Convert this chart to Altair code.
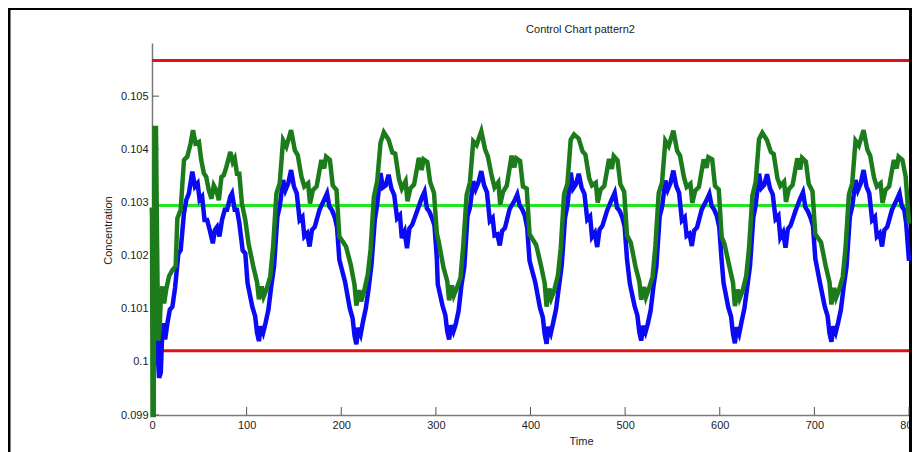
import altair as alt
import pandas as pd

# ---------------- text / ticks ----------------
title_text = "Control Chart pattern2"
x_title = "Time"
y_title = "Concentration"
x_ticks = [0, 100, 200, 300, 400, 500, 600, 700, 800]
y_ticks = [0.099, 0.1, 0.101, 0.102, 0.103, 0.104, 0.105]

# ---------------- control limits ----------------
limit_names = ["UCL", "CL", "LCL"]
limit_values = [0.10567, 0.10294, 0.10021]
limit_colors = ["#e01212", "#22e622", "#e01212"]
limit_start = [0, 0, 0]
limit_end = [800, 800, 800]

# ---------------- series 1 (dark green) ----------------
green_t = [
    0, 0.6, 1.8, 2.6, 4.2, 5.2, 6.5, 8, 9.5, 11, 12.8, 15, 18, 21.6, 25, 26.8, 30.3, 33.8, 37.3, 40.8,
    43.3, 46, 49.6, 52, 54.8, 57.3, 60, 62.9, 65.3, 68, 70.6, 73.4, 75.8, 78.6, 82.8, 85.3, 87.4, 89.8, 92.3, 95, 98.6,
    102, 107, 111, 113, 116, 118, 121, 125, 128, 131.5, 135, 138.5, 142, 147, 151, 154, 158, 161, 165, 167,
    170, 174, 179, 182, 184, 188, 191, 195, 198,
    205, 210, 214, 216, 219, 221, 224, 228, 231, 234.5, 238, 241.5, 245, 250, 254, 257, 261, 264, 268, 270,
    273, 277, 282, 285, 287, 291, 294, 298, 301,
    303, 308, 312, 314, 317, 319, 322, 326, 329, 332.5, 336, 339.5, 343, 348, 352, 355, 359, 362, 366, 368,
    371, 375, 380, 383, 385, 389, 392, 396, 399,
    406, 411, 415, 417, 420, 422, 425, 429, 432, 435.5, 439, 442.5, 446, 451, 455, 458, 462, 465, 469, 471,
    474, 478, 483, 486, 488, 492, 495, 499, 502,
    506, 511, 515, 517, 520, 522, 525, 529, 532, 535.5, 539, 542.5, 546, 551, 555, 558, 562, 565, 569, 571,
    574, 578, 583, 586, 588, 592, 595, 599, 602,
    605, 610, 614, 616, 619, 621, 624, 628, 631, 634.5, 638, 641.5, 645, 650, 654, 657, 661, 664, 668, 670,
    673, 677, 682, 685, 687, 691, 694, 698, 701,
    707, 712, 716, 718, 721, 723, 726, 730, 733, 736.5, 740, 743.5, 747, 752, 756, 759, 763, 766, 770, 772,
    775, 779, 784, 787, 789, 793, 796.5, 800,
]
green_v = [
    0.1029, 0.0990, 0.0990, 0.1044, 0.1044, 0.1025, 0.1004, 0.1006, 0.1013, 0.10142, 0.1011, 0.10136, 0.10161, 0.10173, 0.1018, 0.1027, 0.10286, 0.1038, 0.10386, 0.10411,
    0.10436, 0.10411, 0.10414, 0.1038, 0.10355, 0.10348, 0.10323, 0.10307, 0.10332, 0.10323, 0.10304, 0.10348, 0.10351, 0.10367, 0.10395, 0.10376, 0.10383, 0.10354, 0.10354, 0.10298, 0.10267,
    0.10223, 0.1018, 0.1015, 0.10118, 0.10142, 0.10123, 0.10136, 0.10161, 0.10217, 0.10317, 0.10336, 0.10417, 0.10405, 0.10436, 0.10398, 0.10389, 0.10348, 0.1033, 0.10336, 0.10298,
    0.10323, 0.1033, 0.1038, 0.10364, 0.10386, 0.1038, 0.10332, 0.10323, 0.10236,
    0.10217, 0.10183, 0.10145, 0.10106, 0.10135, 0.10114, 0.10132, 0.10164, 0.10211, 0.10311, 0.1034, 0.10412, 0.10432, 0.10418, 0.10394, 0.10392, 0.10344, 0.10326, 0.1034, 0.10302,
    0.10326, 0.10334, 0.10384, 0.10361, 0.10381, 0.10376, 0.10338, 0.10318, 0.10242,
    0.10226, 0.10178, 0.10152, 0.10116, 0.10144, 0.10125, 0.10138, 0.10158, 0.1022, 0.10314, 0.10338, 0.10415, 0.10408, 0.10434, 0.104, 0.10386, 0.1035, 0.10328, 0.10338, 0.10296,
    0.1032, 0.10332, 0.10388, 0.10366, 0.10383, 0.10378, 0.1033, 0.10326, 0.1024,
    0.1022, 0.10182, 0.10148, 0.10104, 0.10138, 0.1012, 0.10134, 0.10163, 0.10214, 0.10316, 0.10335, 0.10418, 0.10428, 0.1042, 0.10396, 0.1039, 0.10346, 0.10332, 0.10337, 0.103,
    0.10324, 0.10331, 0.10382, 0.10363, 0.10387, 0.10379, 0.10334, 0.1032, 0.10238,
    0.10224, 0.10179, 0.10151, 0.10117, 0.10141, 0.10122, 0.10137, 0.1016, 0.10218, 0.10318, 0.10337, 0.10416, 0.10406, 0.10435, 0.10397, 0.10388, 0.10349, 0.10329, 0.10335, 0.10299,
    0.10322, 0.10329, 0.10381, 0.10365, 0.10385, 0.10381, 0.10331, 0.10324, 0.10235,
    0.10222, 0.10181, 0.10149, 0.10105, 0.10136, 0.10119, 0.10133, 0.10162, 0.10215, 0.10313, 0.10339, 0.10419, 0.10431, 0.10417, 0.10395, 0.10391, 0.10345, 0.10331, 0.10339, 0.10301,
    0.10325, 0.10333, 0.10383, 0.10362, 0.10384, 0.10377, 0.10335, 0.10321, 0.1024,
    0.10225, 0.1018, 0.1015, 0.10108, 0.10139, 0.10121, 0.10135, 0.1016, 0.10216, 0.10315, 0.10336, 0.10416, 0.10407, 0.10436, 0.10399, 0.10388, 0.10347, 0.1033, 0.10336, 0.10299,
    0.10323, 0.1033, 0.1038, 0.10364, 0.10386, 0.1038, 0.10348, 0.1026,
]

# ---------------- series 2 (blue) ----------------
blue_t = [
    0, 1.5, 3.5, 5, 6.5, 7.5, 9.3, 10.5, 11.8, 13.9, 16.3, 18.8, 21.6, 24.4, 27.9, 30.3, 33.8, 36.3, 39, 42.6,
    45.4, 48.2, 50.3, 53, 55.5, 58.3, 61, 64.3, 66.4, 68.8, 71.3, 74, 76.9, 79.3, 82.8, 84.6, 87.4, 89.8, 92.3, 95.8, 98.6,
    101, 106, 109, 111, 113, 115, 117.5, 120, 123, 126, 129, 132.5, 135, 138.5, 141, 144, 147, 150, 153, 156,
    159, 161, 164, 166.5, 169, 172, 177, 182, 185, 187.5, 190, 193, 195.5, 198,
    204, 209, 212, 214, 216, 218, 220.5, 223, 226, 229, 232, 235.5, 238, 241.5, 244, 247, 250, 253, 256, 259,
    262, 264, 267, 269.5, 272, 275, 280, 285, 288, 290.5, 293, 296, 298.5, 301,
    302, 307, 310, 312, 314, 316, 318.5, 321, 324, 327, 330, 333.5, 336, 339.5, 342, 345, 348, 351, 354, 357,
    360, 362, 365, 367.5, 370, 373, 378, 383, 386, 388.5, 391, 394, 396.5, 399,
    405, 410, 413, 415, 417, 419, 421.5, 424, 427, 430, 433, 436.5, 439, 442.5, 445, 448, 451, 454, 457, 460,
    463, 465, 468, 470.5, 473, 476, 481, 486, 489, 491.5, 494, 497, 499.5, 502,
    505, 510, 513, 515, 517, 519, 521.5, 524, 527, 530, 533, 536.5, 539, 542.5, 545, 548, 551, 554, 557, 560,
    563, 565, 568, 570.5, 573, 576, 581, 586, 589, 591.5, 594, 597, 599.5, 602,
    604, 609, 612, 614, 616, 618, 620.5, 623, 626, 629, 632, 635.5, 638, 641.5, 644, 647, 650, 653, 656, 659,
    662, 664, 667, 669.5, 672, 675, 680, 685, 688, 690.5, 693, 696, 698.5, 701,
    706, 711, 714, 716, 718, 720, 722.5, 725, 728, 731, 734, 737.5, 740, 743.5, 746, 749, 752, 755, 758, 761,
    764, 766, 769, 771.5, 774, 777, 782, 787, 790, 792.5, 795, 797, 800,
]
blue_v = [
    0.1029, 0.1020, 0.1014, 0.1010, 0.1000, 0.0997, 0.0998, 0.1004, 0.10073, 0.10042, 0.10073, 0.10098, 0.10104, 0.1014, 0.10204, 0.1021, 0.1028, 0.10305, 0.10317, 0.10358,
    0.1033, 0.10336, 0.10305, 0.10311, 0.10267, 0.10267, 0.10248, 0.10223, 0.10248, 0.10254, 0.10236, 0.10267, 0.10286, 0.10286, 0.10311, 0.10317, 0.10286, 0.10286, 0.10261, 0.1021, 0.10204,
    0.10148, 0.10104, 0.10086, 0.10055, 0.10039, 0.10067, 0.10055, 0.10073, 0.10098, 0.10142, 0.1018, 0.10273, 0.10292, 0.10342, 0.10323, 0.10336, 0.10361, 0.1033, 0.10317, 0.10267,
    0.10273, 0.10236, 0.10242, 0.10217, 0.10248, 0.10254, 0.10286, 0.10305, 0.10317, 0.10292, 0.10286, 0.10273, 0.10254, 0.10192,
    0.10151, 0.10101, 0.10082, 0.1005, 0.10033, 0.10064, 0.10052, 0.10076, 0.10101, 0.10139, 0.10184, 0.10268, 0.10296, 0.10355, 0.10328, 0.10332, 0.10352, 0.10326, 0.10314, 0.1027,
    0.10276, 0.10233, 0.10245, 0.10214, 0.10251, 0.10258, 0.10283, 0.10308, 0.1032, 0.10289, 0.10283, 0.1027, 0.10257, 0.10195,
    0.10146, 0.10106, 0.10088, 0.10058, 0.10042, 0.10069, 0.10057, 0.10071, 0.10096, 0.10144, 0.10178, 0.10275, 0.1029, 0.1034, 0.10325, 0.10338, 0.10359, 0.10332, 0.10319, 0.10265,
    0.10271, 0.10238, 0.1024, 0.10219, 0.10246, 0.10252, 0.10288, 0.10303, 0.10315, 0.10294, 0.10288, 0.10275, 0.10252, 0.1019,
    0.1015, 0.10102, 0.10084, 0.10052, 0.10034, 0.10066, 0.10054, 0.10074, 0.10099, 0.10141, 0.10182, 0.10271, 0.10294, 0.10356, 0.10326, 0.10334, 0.10354, 0.10328, 0.10316, 0.10268,
    0.10274, 0.10235, 0.10243, 0.10216, 0.10249, 0.10256, 0.10285, 0.10306, 0.10318, 0.1029, 0.10285, 0.10272, 0.10255, 0.10193,
    0.10147, 0.10105, 0.10087, 0.10056, 0.1004, 0.10068, 0.10056, 0.10072, 0.10097, 0.10143, 0.10179, 0.10274, 0.10291, 0.10341, 0.10324, 0.10337, 0.1036, 0.10331, 0.10318, 0.10266,
    0.10272, 0.10237, 0.10241, 0.10218, 0.10247, 0.10253, 0.10287, 0.10304, 0.10316, 0.10293, 0.10287, 0.10274, 0.10253, 0.10191,
    0.10149, 0.10103, 0.10085, 0.10053, 0.10035, 0.10065, 0.10053, 0.10075, 0.101, 0.1014, 0.10181, 0.10272, 0.10295, 0.10354, 0.10327, 0.10333, 0.10353, 0.10327, 0.10315, 0.10269,
    0.10275, 0.10234, 0.10244, 0.10215, 0.1025, 0.10257, 0.10284, 0.10307, 0.10319, 0.10291, 0.10284, 0.10271, 0.10256, 0.10194,
    0.10148, 0.10104, 0.10086, 0.10054, 0.10038, 0.10067, 0.10055, 0.10073, 0.10098, 0.10142, 0.1018, 0.10273, 0.10292, 0.10342, 0.10323, 0.10336, 0.10361, 0.1033, 0.10317, 0.10267,
    0.10273, 0.10236, 0.10242, 0.10217, 0.10248, 0.10254, 0.10286, 0.10305, 0.10317, 0.10292, 0.10286, 0.10261, 0.1019,
]

# ---------------- build chart ----------------
FONT = "Liberation Sans"
TXT = "#222222"
W, H = 757, 372
PAD = {"left": 144, "top": 35, "right": 3, "bottom": 37}   # svg = 904 px wide: no shrinking

xs = alt.Scale(domain=[0, 800], nice=False, zero=False)
ys = alt.Scale(domain=[0.099, 0.106], nice=False, zero=False)

lim_df = pd.DataFrame({"name": limit_names, "v": limit_values, "c": limit_colors,
                       "t0": limit_start, "t1": limit_end})
green_df = pd.DataFrame({"t": green_t, "v": green_v})
blue_df = pd.DataFrame({"t": blue_t, "v": blue_v})
ytick_df = pd.DataFrame({"v": y_ticks})
xtick_df = pd.DataFrame({"t": x_ticks})

x_axis = alt.Axis(values=x_ticks, format="d", title=x_title, grid=False, ticks=False, tickSize=0,
                  domainColor="#7a7a7a", domainWidth=1.5, labelFont=FONT, labelFontSize=11,
                  labelColor=TXT, labelPadding=4, labelFlush=False, labelOverlap=False,
                  titleFont=FONT, titleFontSize=11, titleFontWeight="normal", titleColor=TXT,
                  titleX=429, titleY=26, titleAlign="center", titleBaseline="middle")
y_axis = alt.Axis(values=y_ticks, labelExpr="format(datum.value, '.3~f')", title=y_title,
                  grid=False, ticks=False, tickSize=0, domainColor="#7a7a7a", domainWidth=1.5,
                  labelFont=FONT, labelFontSize=11, labelColor=TXT, labelPadding=4,
                  labelFlush=False, labelOverlap=False,
                  titleFont=FONT, titleFontSize=11, titleFontWeight="normal", titleColor=TXT,
                  titleX=-44, titleY=187, titleAngle=270, titleAlign="center", titleBaseline="middle")

X = lambda f: alt.X(f, scale=xs, axis=x_axis)
Y = lambda f: alt.Y(f, scale=ys, axis=y_axis)

limits = alt.Chart(lim_df).mark_rule(strokeWidth=3).encode(
    x=X("t0:Q"),
    x2="t1:Q",
    y=Y("v:Q"),
    color=alt.Color("c:N", scale=None, legend=None),
)

blue_line = alt.Chart(blue_df).mark_line(strokeWidth=4.5, color="#0a0af5").encode(
    x=X("t:Q"), y=Y("v:Q"))
green_line = alt.Chart(green_df).mark_line(strokeWidth=4.5, color="#1c7c1c").encode(
    x=X("t:Q"), y=Y("v:Q"))

ytick_marks = alt.Chart(ytick_df).mark_rule(color="#555555", strokeWidth=1).encode(
    y=Y("v:Q"), x=alt.value(0), x2=alt.value(7))
xtick_marks = alt.Chart(xtick_df).mark_rule(color="#555555", strokeWidth=1).encode(
    x=X("t:Q"), y=alt.value(H), y2=alt.value(H - 8))

# decorative figure border (as in the reference screenshot)
frame = alt.Chart(pd.DataFrame({"a": [0]})).mark_rect(
    fill="white", fillOpacity=0, stroke="black", strokeWidth=3).encode(
    x=alt.value(-143), x2=alt.value(758.5), y=alt.value(-34.5), y2=alt.value(430))

chart = alt.layer(frame, limits, ytick_marks, xtick_marks, blue_line, green_line).properties(
    width=W, height=H,
    title=alt.TitleParams(text=title_text, font=FONT, fontSize=11, fontWeight="normal", color=TXT,
                          anchor="middle", frame="group", dx=50, offset=-28),
    autosize=alt.AutoSizeParams(type="none"),
    padding=PAD,
    background="white",
).configure_view(stroke=None)

chart.save("out.html", embed_options={"renderer": "svg", "actions": False})
